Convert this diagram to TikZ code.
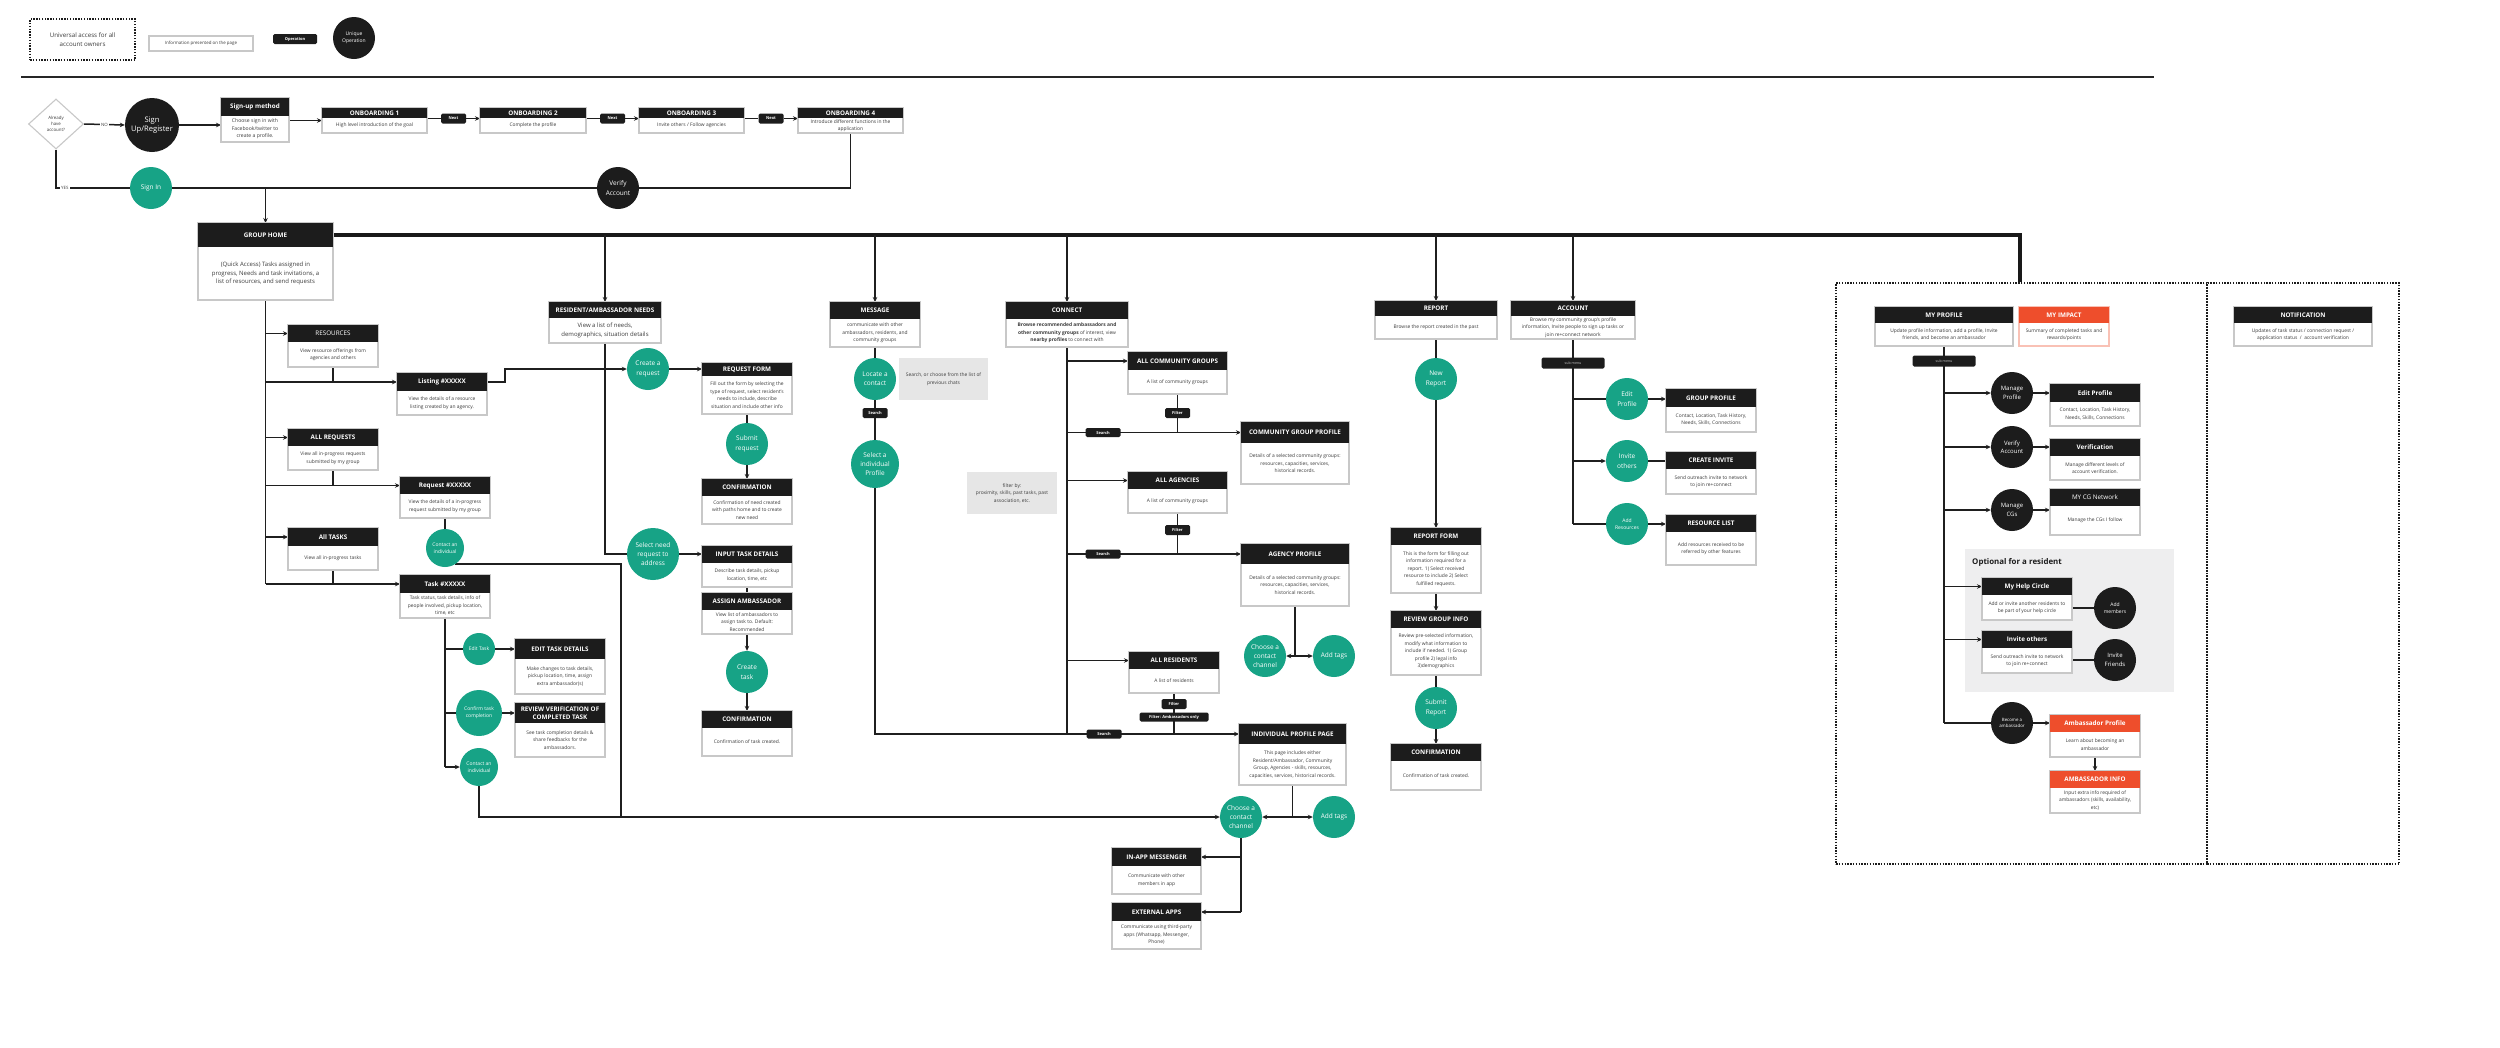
\documentclass[tikz,border=0pt]{standalone}
\usepackage{fontspec}
\setmainfont{Open Sans}
\usetikzlibrary{arrows.meta,calc,shapes.geometric}
\pgfdeclarelayer{back}
\pgfdeclarelayer{background}
\pgfsetlayers{back,background,main}

\definecolor{tealcol}{RGB}{23,163,134}
\definecolor{hdr}{RGB}{28,28,28}
\definecolor{bord}{RGB}{200,200,200}
\definecolor{txt}{RGB}{60,60,60}
\definecolor{orng}{RGB}{238,78,44}
\definecolor{notec}{RGB}{230,230,230}
\definecolor{optg}{RGB}{238,238,239}

\newcommand\FHead{\fontsize{6.3}{7.6}\selectfont\bfseries}
\newcommand\FHeadR{\fontsize{6.3}{7.6}\selectfont\mdseries}
\newcommand\FBody{\fontsize{4.9}{7.5}\selectfont}
\newcommand\FBig{\fontsize{6}{8.8}\selectfont}
\newcommand\FCirc{\fontsize{6.5}{9.4}\selectfont}
\newcommand\FMid{\fontsize{6}{8.4}\selectfont}
\newcommand\FSmall{\fontsize{5}{6.8}\selectfont}
\newcommand\FTinyC{\fontsize{4.4}{6}\selectfont}
\newcommand\FPill{\fontsize{4}{4.8}\selectfont\bfseries}
\newcommand\FTiny{\fontsize{4.4}{5.8}\selectfont}
\newcommand\FLeg{\fontsize{6.2}{9}\selectfont}
\newcommand\FSign{\fontsize{7.6}{9.6}\selectfont}
\newcommand\FOpt{\fontsize{7.9}{9}\selectfont\bfseries}

\tikzset{
  cardbox/.style={rectangle, draw=bord, line width=1.1pt, fill=white, inner sep=0pt, outer sep=0pt},
  cardhead/.style={rectangle, fill=hdr, text=white, inner sep=0pt, outer sep=0pt, font=\FHead, align=center},
  cardtext/.style={text=txt, font=\FBody, align=center, inner sep=0pt},
  conn/.style={line width=1.5pt, draw=black!88},
  arr/.style={conn, -{Stealth[length=5pt,width=4.5pt]}},
  tealc/.style={circle, fill=tealcol, text=white, inner sep=0pt, align=center, font=\FCirc, minimum size=42pt},
  blackc/.style={circle, fill=hdr, text=white, inner sep=0pt, align=center, font=\FMid, minimum size=42pt},
  pill/.style={rectangle, rounded corners=1.5pt, fill=hdr, text=white, inner sep=0pt, font=\FPill, minimum width=25pt, minimum height=10pt},
  notebox/.style={rectangle, fill=notec, text=txt, font=\FBody, align=center, inner sep=1pt},
  dotbox/.style={rectangle, draw=hdr, line width=2.2pt, dash pattern=on 1.4pt off 1.4pt},
}

% [body opts]{name}{x}{y}{w}{header h}{total h}{title}{body}
\newcommand\mycard[9][]{%
  \node[cardbox, anchor=north west, minimum width=#5pt, minimum height=#7pt] (#2) at (#3,#4) {};
  \node[cardhead, anchor=north west, minimum width=#5pt, minimum height=#6pt] (#2h) at (#3,#4) {#8};
  \node[cardtext, #1] (#2t) at ($(#2h.south)!0.5!(#2.south)$) {#9};
}

\begin{document}
\begin{tikzpicture}[x=1pt,y=-1pt]
\useasboundingbox (0,0) rectangle (2500,1047);
\begin{pgfonlayer}{back}
\fill[white] (0,0) rectangle (2500,1047);
\node[dotbox, anchor=north west, minimum width=371pt, minimum height=581pt] (dzL) at (1835,282) {};
\node[dotbox, anchor=north west, minimum width=192pt, minimum height=581pt] (dzR) at (2206,282) {};
\node[rectangle, fill=optg, anchor=north west, minimum width=209pt, minimum height=143pt, inner sep=0pt] (opt) at (1965,549) {};
\end{pgfonlayer}

% ---------- legend ----------
\node[dotbox, anchor=north west, minimum width=105pt, minimum height=41pt, align=center, font=\FLeg, text=txt] (lgA) at (29,18) {Universal access for all\\account owners};
\node[cardbox, anchor=north west, minimum width=104pt, minimum height=15pt, font=\FTiny, text=txt] (lgB) at (149,36) {Information presented on the page};
\node[pill, minimum width=44pt, minimum height=10pt] (lgC) at (295,39) {Operation};
\node[blackc, font=\FSmall] (lgD) at (354,38) {Unique\\Operation};
\draw[line width=2pt, black!85] (21,77) -- (2154,77);

% ---------- row 1 ----------
\node[diamond, draw=bord, line width=1.1pt, fill=white, minimum width=55pt, minimum height=50pt, inner sep=0pt, align=center, font=\FTiny, text=txt] (dia) at (56,124) {Already\\have\\account?};
\node[blackc, minimum size=54pt, font=\FSign] (sur) at (152,125) {Sign\\Up/Register};
\mycard[font=\fontsize{5.1}{7.6}\selectfont]{sum}{221}{98}{68}{18}{44}{Sign-up method}{Choose sign in with\\Facebook/twitter to\\create a profile.}
\mycard{onba}{322}{108}{105}{10}{25}{ONBOARDING 1}{High level introduction of the goal}
\mycard{onbb}{480}{108}{106}{10}{25}{ONBOARDING 2}{Complete the profile}
\mycard{onbc}{639}{108}{105}{10}{25}{ONBOARDING 3}{Invite others / Follow agencies}
\mycard{onbd}{798}{108}{105}{10}{25}{ONBOARDING 4}{Introduce different functions in the\\application}
\node[pill] (nxa) at ($(onba.east)!0.5!(onbb.west)+(0,-2)$) {Next};
\node[pill] (nxb) at ($(onbb.east)!0.5!(onbc.west)+(0,-2)$) {Next};
\node[pill] (nxc) at ($(onbc.east)!0.5!(onbd.west)+(0,-2)$) {Next};

% ---------- row 2 ----------
\node[tealc] (si) at (151,188) {Sign In};
\node[blackc, font=\FCirc] (va) at (618,188) {Verify\\Account};

% ---------- group home ----------
\mycard[font=\FBig]{gh}{198}{223}{135}{24}{77}{GROUP HOME}{(Quick Access) Tasks assigned in\\progress, Needs and task invitations, a\\list of resources, and send requests}

% ---------- left column ----------
\mycard{res}{288}{325}{90}{17}{42}{\FHeadR RESOURCES}{View resource offerings from\\agencies and others}
\mycard{lst}{397}{373}{90}{18}{42}{Listing \#XXXXX}{View the details of a resource\\listing created by an agency.}
\mycard{areq}{288}{429}{90}{17}{41}{ALL REQUESTS}{View all in-progress requests\\submitted by my group}
\mycard{req}{400}{477}{90}{17}{41}{Request \#XXXXX}{View the details of a in-progress\\request submitted by my group}
\node[tealc, minimum size=38pt, font=\FSmall] (cta) at (445,548) {Contact an\\individual};
\mycard{atk}{288}{528}{90}{18}{42}{All TASKS}{View all in-progress tasks}
\mycard{tsk}{400}{575}{90}{18}{43}{Task \#XXXXX}{Task status, task details, info of\\people involved, pickup location,\\time, etc}
\node[tealc, minimum size=32pt, font=\FSmall] (edt) at (479,649) {Edit Task};
\mycard{etd}{515}{639}{90}{20}{55}{EDIT TASK DETAILS}{Make changes to task details,\\pickup location, time, assign\\extra ambassador(s)}
\node[tealc, minimum size=46pt, font=\FSmall] (cfm) at (479,713) {Confirm task\\completion};
\mycard{rvw}{515}{703}{90}{20}{54}{REVIEW VERIFICATION OF\\COMPLETED TASK}{See task completion details \&\\share feedbacks for the\\ambassadors.}
\node[tealc, minimum size=38pt, font=\FSmall] (ctb) at (479,767) {Contact an\\individual};

% ---------- needs column ----------
\mycard[font=\FBig]{ran}{549}{302}{112}{16}{41}{RESIDENT/AMBASSADOR NEEDS}{View a list of needs,\\demographics, situation details}
\node[tealc] (crq) at (648,369) {Create a\\request};
\mycard{rqf}{702}{363}{90}{13}{51}{REQUEST FORM}{Fill out the form by selecting the\\type of request, select resident's\\needs to include, describe\\situation and include other info}
\node[tealc] (sbr) at (747,444) {Submit\\request};
\mycard{cfa}{702}{479}{90}{17}{45}{CONFIRMATION}{Confirmation of need created\\with paths home and to create\\new need}
\node[tealc, minimum size=52pt] (snd) at (653,554) {Select need\\request to\\address};
\mycard{itd}{702}{546}{90}{17}{41}{INPUT TASK DETAILS}{Describe task details, pickup\\location, time, etc}
\mycard{asa}{702}{593}{90}{17}{41}{ASSIGN AMBASSADOR}{View list of ambassadors to\\assign task to. Default:\\Recommended}
\node[tealc] (ctk) at (747,672) {Create\\task};
\mycard{cfb}{702}{711}{90}{17}{45}{CONFIRMATION}{Confirmation of task created.}

% ---------- message column ----------
\mycard{msg}{830}{302}{90}{17}{45}{MESSAGE}{communicate with other\\ambassadors, residents, and\\community groups}
\node[tealc] (loc) at (875,379) {Locate a\\contact};
\node[notebox, minimum width=89pt, minimum height=42pt] (nta) at (943.5,379) {Search, or choose from the list of\\previous chats};
\node[pill] (msr) at (875,413) {Search};
\node[tealc, minimum size=48pt] (sip) at (875,464) {Select a\\individual\\Profile};

% ---------- connect column ----------
\mycard{con}{1006}{302}{122}{17}{45}{CONNECT}{\textbf{Browse recommended ambassadors and}\\\textbf{other community groups} of interest, view\\\textbf{nearby profiles} to connect with}
\mycard{acg}{1128}{352}{99}{18}{42}{ALL COMMUNITY GROUPS}{A list of community groups}
\node[pill] (fla) at (1177.5,413) {Filter};
\node[pill, minimum width=35pt, minimum height=9pt] (sra) at (1103,432.5) {Search};
\mycard{cgp}{1241}{422}{108}{21}{62}{COMMUNITY GROUP PROFILE}{Details of a selected community groups:\\resources, capacities, services,\\historical records.}
\node[notebox, minimum width=90pt, minimum height=42pt] (ntb) at (1012,493) {filter by:\\proximity, skills, past tasks, past\\association, etc.};
\mycard{aag}{1128}{472}{99}{17}{41}{ALL AGENCIES}{A list of community groups}
\node[pill] (flb) at (1177.5,530) {Filter};
\node[pill, minimum width=35pt, minimum height=9pt] (srb) at (1103,554) {Search};
\mycard{agp}{1241}{544}{108}{20}{62}{AGENCY PROFILE}{Details of a selected community groups:\\resources, capacities, services,\\historical records.}
\node[tealc] (cha) at (1265,656) {Choose a\\contact\\channel};
\node[tealc] (ata) at (1334,656) {Add tags};
\mycard{ars}{1129}{652}{90}{17}{41}{ALL RESIDENTS}{A list of residents}
\node[pill] (flc) at (1174,704) {Filter};
\node[pill, minimum width=69pt, minimum height=9pt] (fld) at (1174,717) {Filter: Ambassadors only};
\node[pill, minimum width=35pt, minimum height=9pt] (src) at (1104,734) {Search};
\mycard{ipp}{1239}{724}{107}{20}{61}{INDIVIDUAL PROFILE PAGE}{This page includes either\\Resident/Ambassador, Community\\Group, Agencies - skills, resources,\\capacities, services, historical records.}
\node[tealc] (chb) at (1241,817) {Choose a\\contact\\channel};
\node[tealc] (atb) at (1334,817) {Add tags};
\mycard{iam}{1112}{848}{89}{18}{46}{IN-APP MESSENGER}{Communicate with other\\members in app}
\mycard{ext}{1112}{903}{89}{18}{46}{EXTERNAL APPS}{Communicate using third-party\\apps (Whatsapp, Messenger,\\Phone)}

% ---------- report column ----------
\mycard{rep}{1375}{301}{122}{15}{38}{REPORT}{Browse the report created in the past}
\node[tealc] (nrp) at (1436,379) {New\\Report};
\mycard{rpf}{1391}{528}{90}{17}{65}{REPORT FORM}{This is the form for filling out\\information required for a\\report. 1) Select received\\resource to include 2) Select\\fulfilled requests.}
\mycard{rgi}{1391}{611}{90}{17}{64}{REVIEW GROUP INFO}{Review pre-selected information,\\modify what information to\\include if needed. 1) Group\\profile 2) legal info\\3)demographics}
\node[tealc] (sbp) at (1436,708) {Submit\\Report};
\mycard{cfc}{1391}{744}{90}{17}{46}{CONFIRMATION}{Confirmation of task created.}

% ---------- account column ----------
\mycard{acc}{1511}{301}{124}{15}{38}{ACCOUNT}{Browse my community group's profile\\information, Invite people to sign up tasks or\\join re+connect network}
\node[pill, minimum width=63pt, minimum height=11pt, font=\fontsize{3.6}{4}\selectfont, text=white!75!black] (sma) at (1573,363) {sub menu};
\node[tealc] (edp) at (1627,399) {Edit\\Profile};
\mycard{grp}{1666}{389}{90}{18}{43}{GROUP PROFILE}{Contact, Location, Task History,\\Needs, Skills, Connections}
\node[tealc] (ivo) at (1627,461) {Invite\\others};
\mycard{cri}{1666}{452}{90}{17}{42}{CREATE INVITE}{Send outreach invite to network\\to join re+connect}
\node[tealc, font=\FSmall] (adr) at (1627,524) {Add\\Resources};
\mycard{rsl}{1666}{515}{90}{17}{50}{RESOURCE LIST}{Add resources received to be\\referred by other features}

% ---------- profile region ----------
\mycard{mpf}{1875}{307}{138}{16}{39}{MY PROFILE}{Update profile information, add a profile, Invite\\friends, and become an ambassador}
\begin{scope}[cardhead/.append style={fill=orng}, cardbox/.append style={draw=orng!35}]
\mycard{mim}{2019}{307}{90}{16}{39}{MY IMPACT}{Summary of completed tasks and\\rewards/points}
\end{scope}
\mycard{ntf}{2234}{307}{138}{16}{39}{NOTIFICATION}{Updates of task status / connection request /\\application status\ \ /\ \ account verification}
\node[pill, minimum width=63pt, minimum height=11pt, font=\fontsize{3.6}{4}\selectfont, text=white!75!black] (smb) at (1944,361) {sub menu};
\node[blackc] (mgp) at (2012,393) {Manage\\Profile};
\mycard{edq}{2050}{384}{90}{18}{42}{Edit Profile}{Contact, Location, Task History,\\Needs, Skills, Connections}
\node[blackc] (vfa) at (2012,447) {Verify\\Account};
\mycard{vrf}{2050}{439}{90}{17}{41}{Verification}{Manage different levels of\\account verification.}
\node[blackc] (mcg) at (2012,510) {Manage\\CGs};
\mycard{cgn}{2050}{489}{90}{17}{46}{\FHeadR MY CG Network}{Manage the CGs I follow}
\node[anchor=west, font=\FOpt, text=hdr, inner sep=0pt] (optl) at (1972,562) {Optional for a resident};
\mycard{mhc}{1982}{578}{90}{17}{42}{My Help Circle}{Add or invite another residents to\\be part of your help circle}
\node[blackc, font=\FSmall] (adm) at (2115,608) {Add\\members};
\mycard{iot}{1982}{631}{90}{17}{42}{Invite others}{Send outreach invite to network\\to join re+connect}
\node[blackc] (ivf) at (2115,660) {Invite\\Friends};
\node[blackc, font=\FTinyC] (bam) at (2012,723) {Become a\\ambassador};
\begin{scope}[cardhead/.append style={fill=orng}]
\mycard{amp}{2050}{715}{90}{17}{42}{Ambassador Profile}{Learn about becoming an\\ambassador}
\mycard{ami}{2050}{771}{90}{17}{42}{AMBASSADOR INFO}{Input extra info required of\\ambassadors (skills, availability,\\etc)}
\end{scope}

% ================= connectors =================
\begin{pgfonlayer}{background}
% row 1
\draw[arr] (dia.east) -- node[fill=white, font=\FTiny, text=txt, inner sep=1pt] (nol) {NO} (sur.west);
\draw[arr, line width=2.6pt] (sur.east) -- (sur.east -| sum.west);
\draw[arr] (sum.east |- onba.west) -- (onba.west);
\draw[conn] (onba.east |- nxa.west) -- (nxa.west);
\draw[arr] (nxa.east) -- (nxa.east -| onbb.west);
\draw[conn] (onbb.east |- nxb.west) -- (nxb.west);
\draw[arr] (nxb.east) -- (nxb.east -| onbc.west);
\draw[conn] (onbc.east |- nxc.west) -- (nxc.west);
\draw[arr] (nxc.east) -- (nxc.east -| onbd.west);
% row 2
\draw[conn] (dia.south) |- node[pos=0.56, fill=white, font=\FTiny, text=txt, inner sep=1pt] (yesl) {YES} (si.west);
\draw[conn] (si.east) -- (va.west);
\draw[conn] (va.east) -| (onbd.south);
\draw[arr] (gh.north |- si.east) -- (gh.north);
% group home bus
\coordinate (dzin) at (2020,282);
\draw[line width=3.5pt, black!90] (ghh.east) -| (dzin);
\foreach \n in {ran,msg,con,rep,acc} \draw[arr] (\n.north |- ghh.east) -- (\n.north);
% left column
\draw[conn] (gh.south) -- (gh.south |- tskh.west);
\draw[arr] (gh.south |- resh.west) -- (resh.west);
\draw[arr] (gh.south |- lsth.west) -- (lsth.west);
\draw[conn] (res.south) -- (res.south |- lsth.west);
\draw[arr] (gh.south |- areqh.west) -- (areqh.west);
\draw[arr] (gh.south |- reqh.west) -- (reqh.west);
\draw[conn] (areq.south) -- (areq.south |- reqh.west);
\draw[arr] (gh.south |- atkh.west) -- (atkh.west);
\draw[arr] (gh.south |- tskh.west) -- (tskh.west);
\draw[conn] (atk.south) -- (atk.south |- tskh.west);
\draw[arr] (lsth.east) -- ++(18,0) |- (crq.west);
\draw[conn] (req.south) -- (cta.north);
\coordinate (cj) at (621,817);
\draw[conn] (cta.-57) -| (cj);
\draw[conn] (tsk.south) -- (tsk.south |- ctb.west);
\draw[conn] (tsk.south |- edt.west) -- (edt.west);
\draw[arr] (edt.east) -- (edt.east -| etd.west);
\draw[conn] (tsk.south |- cfm.west) -- (cfm.west);
\draw[arr] (cfm.east) -- (cfm.east -| rvw.west);
\draw[arr] (tsk.south |- ctb.west) -- (ctb.west);
\draw[arr] (ctb.south) |- (chb.west);
% needs column
\draw[conn] (ran.south) |- (snd.west);
\draw[arr] (crq.east) -- (crq.east -| rqf.west);
\draw[conn] (rqf.south) -- (sbr.north);
\draw[arr] (sbr.south) -- (cfa.north);
\draw[arr] (snd.east) -- (snd.east -| itd.west);
\draw[conn] (itd.south) -- (asa.north);
\draw[arr] (asa.south) -- (ctk.north);
\draw[arr] (ctk.south) -- (cfb.north);
% message
\draw[conn] (msg.south) -- (loc.north);
\draw[conn] (loc.south) -- (msr.north);
\draw[conn] (msr.south) -- (sip.north);
\draw[arr] (sip.south) |- (ipph.west);
% connect
\draw[conn] (con.south) -- (con.south |- ipph.west);
\draw[arr] (con.south |- acgh.west) -- (acgh.west);
\draw[arr] (con.south |- cgph.west) -- (cgph.west);
\draw[conn] (acg.south) -- (acg.south |- cgph.west);
\draw[arr] (con.south |- aagh.west) -- (aagh.west);
\draw[arr] (con.south |- agph.west) -- (agph.west);
\draw[conn] (aag.south) -- (aag.south |- agph.west);
\draw[arr] (con.south |- arsh.west) -- (arsh.west);
\draw[conn] (ars.south) -- (ars.south |- ipph.west);
\draw[conn] (agp.south) -- (agp.south |- cha.east);
\draw[arr] (agp.south |- cha.east) -- (cha.east);
\draw[arr] (agp.south |- ata.west) -- (ata.west);
\draw[conn] (ipp.south) -- (ipp.south |- chb.east);
\draw[arr] (ipp.south |- chb.east) -- (chb.east);
\draw[arr] (ipp.south |- atb.west) -- (atb.west);
\draw[conn] (chb.south) -- (chb.south |- exth.east);
\draw[arr] (chb.south |- iamh.east) -- (iamh.east);
\draw[arr] (chb.south |- exth.east) -- (exth.east);
% report
\draw[conn] (rep.south) -- (nrp.north);
\draw[arr] (nrp.south) -- (rpf.north);
\draw[arr] (rpf.south) -- (rgi.north);
\draw[conn] (rgi.south) -- (sbp.north);
\draw[arr] (sbp.south) -- (cfc.north);
% account
\draw[conn] (acc.south) -- (acc.south |- adr.west);
\draw[conn] (acc.south |- edp.west) -- (edp.west);
\draw[arr] (edp.east) -- (edp.east -| grp.west);
\draw[arr] (acc.south |- ivo.west) -- (ivo.west);
\draw[conn] (ivo.east) -- (ivo.east -| cri.west);
\draw[conn] (acc.south |- adr.west) -- (adr.west);
\draw[arr] (adr.east) -- (adr.east -| rsl.west);
% profile region
\draw[conn] (mpf.south) -- (mpf.south |- bam.west);
\draw[arr] (mpf.south |- mgp.west) -- (mgp.west);
\draw[arr] (mgp.east) -- (mgp.east -| edq.west);
\draw[arr] (mpf.south |- vfa.west) -- (vfa.west);
\draw[arr] (vfa.east) -- (vfa.east -| vrf.west);
\draw[arr] (mpf.south |- mcg.west) -- (mcg.west);
\draw[arr] (mcg.east) -- (mcg.east -| cgn.west);
\draw[arr] (mpf.south |- mhch.west) -- (mhch.west);
\draw[conn] (adm.west -| mhc.east) -- (adm.west);
\draw[arr] (mpf.south |- ioth.west) -- (ioth.west);
\draw[conn] (ivf.west -| iot.east) -- (ivf.west);
\draw[conn] (mpf.south |- bam.west) -- (bam.west);
\draw[arr] (bam.east) -- (bam.east -| amph.west);
\draw[arr] (amp.south) -- (ami.north);
\end{pgfonlayer}
\end{tikzpicture}
\end{document}
